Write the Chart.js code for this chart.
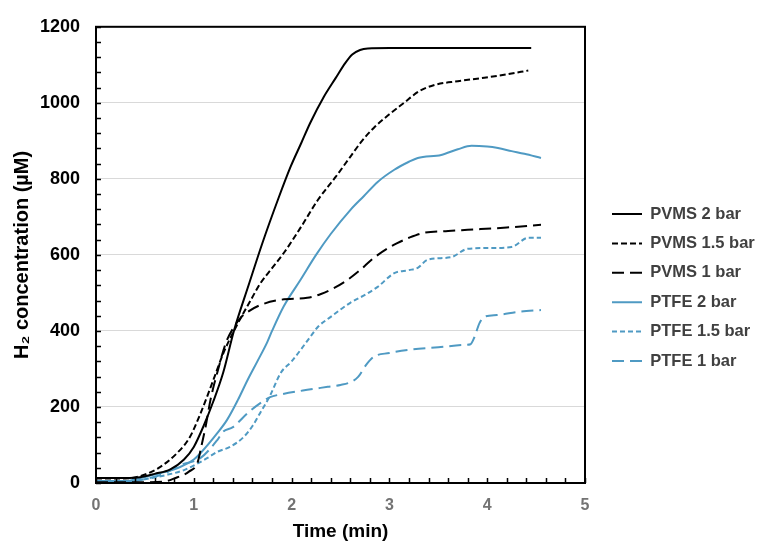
<!DOCTYPE html>
<html>
<head>
<meta charset="utf-8">
<script src="https://cdn.jsdelivr.net/npm/chart.js@4.4.1/dist/chart.umd.min.js"></script>
<style>
  html, body { margin: 0; padding: 0; background: #fff; }
</style>
</head>
<body>
<canvas id="chart" width="758" height="543"></canvas>
<script>
// series (time in min, H2 in uM)
const seriesNames = ['PVMS 2 bar', 'PVMS 1.5 bar', 'PVMS 1 bar', 'PTFE 2 bar', 'PTFE 1.5 bar', 'PTFE 1 bar'];

const pvms2Time = [0, 0.3, 0.45, 0.6, 0.76, 0.9, 1.0, 1.1, 1.2, 1.3, 1.41, 1.56, 1.7, 1.86, 1.99, 2.1, 2.19, 2.33, 2.45, 2.55, 2.62, 2.7, 2.78, 3.0, 4.45];
const pvms2Conc = [13, 13, 15, 24, 36, 62, 95, 150, 215, 290, 400, 520, 630, 745, 832, 895, 947, 1016, 1065, 1105, 1127, 1139, 1143, 1144, 1144];

const pvms15Time = [0, 0.3, 0.45, 0.63, 0.83, 0.96, 1.07, 1.2, 1.3, 1.41, 1.58, 1.68, 1.8, 1.92, 2.1, 2.27, 2.45, 2.6, 2.72, 2.84, 3.0, 3.15, 3.3, 3.46, 3.7, 3.97, 4.2, 4.42];
const pvms15Conc = [12, 12, 18, 38, 79, 121, 184, 271, 340, 400, 480, 525, 565, 605, 675, 745, 805, 858, 900, 934, 970, 1000, 1030, 1047, 1057, 1066, 1075, 1085];

const pvms1Time = [0, 0.5, 0.7, 0.8, 0.95, 1.04, 1.08, 1.12, 1.17, 1.25, 1.33, 1.41, 1.48, 1.55, 1.68, 1.89, 2.16, 2.3, 2.45, 2.57, 2.7, 2.84, 3.0, 3.08, 3.2, 3.35, 3.6, 3.8, 4.2, 4.55];
const pvms1Conc = [2, 2, 4, 12, 30, 55, 100, 147, 218, 300, 370, 410, 435, 450, 468, 482, 487, 497, 515, 534, 560, 592, 620, 631, 645, 658, 663, 666, 672, 679];

const ptfe2Time = [0, 0.3, 0.45, 0.66, 0.86, 1.0, 1.07, 1.24, 1.34, 1.45, 1.55, 1.65, 1.75, 1.8, 1.92, 2.09, 2.25, 2.4, 2.6, 2.74, 2.88, 3.05, 3.2, 3.29, 3.53, 3.7, 3.84, 4.0, 4.11, 4.25, 4.38, 4.55];
const ptfe2Conc = [5, 5, 13, 26, 42, 62, 79, 131, 166, 218, 271, 320, 370, 400, 465, 534, 600, 655, 718, 755, 792, 824, 845, 855, 863, 878, 887, 885, 881, 873, 866, 855];

const ptfe15Time = [0, 0.3, 0.5, 0.7, 0.9, 1.14, 1.24, 1.37, 1.51, 1.6, 1.68, 1.78, 1.89, 2.0, 2.19, 2.27, 2.4, 2.6, 2.75, 2.88, 3.05, 3.2, 3.29, 3.39, 3.63, 3.8, 4.0, 4.25, 4.42, 4.55];
const ptfe15Conc = [3, 3, 10, 20, 34, 66, 82, 95, 121, 150, 185, 230, 290, 320, 384, 411, 437, 474, 495, 516, 552, 560, 566, 587, 594, 616, 618, 621, 645, 645];

const ptfe1Time = [0, 0.3, 0.5, 0.7, 0.86, 1.07, 1.24, 1.3, 1.4, 1.55, 1.68, 1.78, 1.89, 2.16, 2.37, 2.5, 2.6, 2.68, 2.76, 2.84, 3.0, 3.19, 3.5, 3.76, 3.83, 3.87, 3.92, 3.97, 4.1, 4.32, 4.55];
const ptfe1Conc = [3, 3, 10, 25, 47, 66, 113, 135, 147, 184, 210, 226, 233, 245, 253, 258, 265, 279, 310, 332, 342, 350, 357, 363, 365, 384, 420, 437, 442, 450, 455];

const xMin = 0, xMax = 5, xStep = 1;
const yMin = 0, yMax = 1200, yStep = 200;

const BLUE = '#4f9ac3';

function pts(t, v) {
    return t.map((x, i) => ({ x: x, y: v[i] }));
}

function line(label, t, v, color, dash) {
    return {
        label: label,
        data: pts(t, v),
        borderColor: color,
        backgroundColor: color,
        borderWidth: 2,
        borderDash: dash,
        pointRadius: 0,
        cubicInterpolationMode: 'monotone',
        fill: false
    };
}

// inner minor ticks + black frame round the plot
const frame = {
    id: 'frame',
    afterDatasetsDraw(chart) {
        const { ctx, chartArea: a, scales: { x, y } } = chart;
        ctx.save();
        ctx.strokeStyle = '#000';
        ctx.lineWidth = 1.5;
        ctx.beginPath();
        for (let v = yMin; v <= yMax; v += 40) {
            const py = Math.round(y.getPixelForValue(v)) + 0.5;
            ctx.moveTo(a.left, py);
            ctx.lineTo(a.left + 5, py);
        }
        for (let i = 0; i <= 25; i++) {
            const px = Math.round(x.getPixelForValue(i * 0.2)) + 0.5;
            ctx.moveTo(px, a.bottom);
            ctx.lineTo(px, a.bottom - 5);
        }
        ctx.stroke();
        ctx.lineWidth = 2;
        ctx.strokeRect(a.left, a.top, a.right - a.left, a.bottom - a.top);
        ctx.restore();
    }
};

// move the legend block to where it sits in the figure
const legendPlace = {
    id: 'legendPlace',
    afterLayout(chart) {
        const lg = chart.legend;
        lg.left = 599.1;
        lg.right = 758;
        lg.width = lg.right - lg.left;
        lg.top = 192.85;
        lg.bottom = 543;
        lg.height = lg.bottom - lg.top;
    }
};

const ctx = document.getElementById('chart').getContext('2d');
new Chart(ctx, {
    type: 'line',
    data: {
        datasets: [
            line(seriesNames[0], pvms2Time, pvms2Conc, '#000', []),
            line(seriesNames[1], pvms15Time, pvms15Conc, '#000', [6, 3]),
            line(seriesNames[2], pvms1Time, pvms1Conc, '#000', [12, 6]),
            line(seriesNames[3], ptfe2Time, ptfe2Conc, BLUE, []),
            line(seriesNames[4], ptfe15Time, ptfe15Conc, BLUE, [5, 3]),
            line(seriesNames[5], ptfe1Time, ptfe1Conc, BLUE, [12, 6])
        ]
    },
    options: {
        responsive: false,
        animation: false,
        devicePixelRatio: 1,
        layout: { padding: { top: 26, right: 23, bottom: 0, left: 0 } },
        plugins: {
            tooltip: { enabled: false },
            legend: {
                position: 'right',
                align: 'start',
                maxWidth: 150,
                labels: {
                    usePointStyle: true,
                    pointStyle: 'line',
                    pointStyleWidth: 30,
                    padding: 12.9,
                    color: '#404040',
                    font: { family: 'Liberation Sans', size: 16.5, weight: 'bold' },
                    // point style loses the dash, so take it from the dataset
                    generateLabels(chart) {
                        const items = Chart.defaults.plugins.legend.labels.generateLabels(chart);
                        items.forEach((item) => {
                            const ds = chart.data.datasets[item.datasetIndex];
                            item.lineDash = ds.borderDash;
                            item.lineWidth = ds.borderWidth;
                            item.strokeStyle = ds.borderColor;
                        });
                        return items;
                    }
                }
            }
        },
        scales: {
            x: {
                type: 'linear',
                min: xMin,
                max: xMax,
                afterFit: (s) => { s.height = 60; },
                grid: { display: false, drawTicks: false },
                border: { display: false },
                ticks: {
                    stepSize: xStep,
                    padding: 13,
                    color: '#737373',
                    font: { family: 'Liberation Sans', size: 16, weight: 'bold' }
                },
                title: {
                    display: true,
                    text: 'Time (min)',
                    color: '#000',
                    padding: { top: 0, bottom: 0 },
                    font: { family: 'Liberation Sans', size: 19, weight: 'bold' }
                }
            },
            y: {
                min: yMin,
                max: yMax,
                afterFit: (s) => { s.width = 96; },
                grid: { color: '#d9d9d9', lineWidth: 1, drawTicks: false },
                border: { display: false },
                ticks: {
                    stepSize: yStep,
                    padding: 16,
                    color: '#000',
                    font: { family: 'Liberation Sans', size: 18, weight: 'bold' },
                    callback: (v) => String(v)
                },
                title: {
                    display: true,
                    text: 'H₂ concentration (µM)',
                    color: '#000',
                    padding: { top: 10, bottom: 0 },
                    font: { family: 'Liberation Sans', size: 20, weight: 'bold' }
                }
            }
        }
    },
    plugins: [frame, legendPlace]
});
</script>
</body>
</html>
